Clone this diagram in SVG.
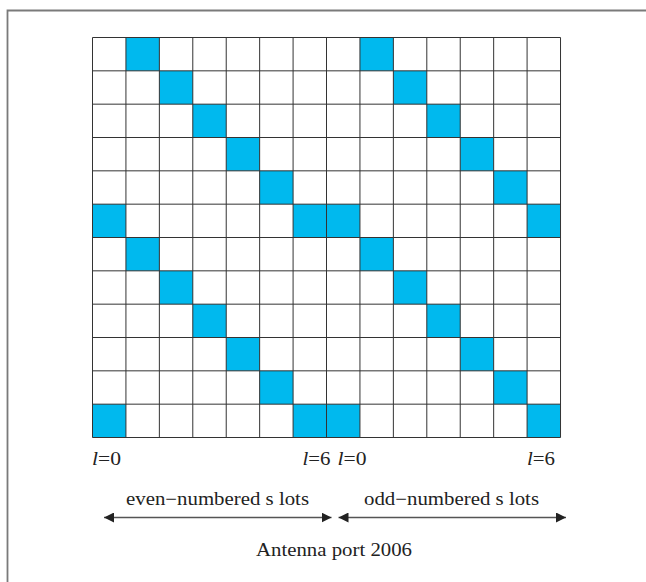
<svg xmlns="http://www.w3.org/2000/svg" width="646" height="582" viewBox="0 0 646 582">
<defs>
<style>
.cell{fill:#00B9EE}
.grid{stroke:#333;stroke-width:1;fill:none}
.frame{stroke:#7a7a7a;stroke-width:1.8;fill:none}
.t{font-family:"Liberation Serif","Times New Roman",serif;fill:#222}
.lbl{font-size:18px}
.cap{font-size:18px}
.arr{stroke:#555;stroke-width:1.6;fill:none}
</style>
<marker id="ah" viewBox="0 0 10 10" refX="10" refY="5" markerWidth="10" markerHeight="10" markerUnits="userSpaceOnUse" orient="auto-start-reverse">
<path d="M0,0 L10,5 L0,10 Z" fill="#222"/>
</marker>
</defs>
<rect width="646" height="582" fill="#fff"/>
<path class="frame" d="M7.5,582 V10.5 H646"/>
<g id="cells">
<g id="even">
<rect class="cell" x="125.93" y="37.5" width="33.43" height="33.33"/>
<rect class="cell" x="159.36" y="70.83" width="33.43" height="33.33"/>
<rect class="cell" x="192.79" y="104.17" width="33.43" height="33.33"/>
<rect class="cell" x="226.22" y="137.5" width="33.43" height="33.33"/>
<rect class="cell" x="259.65" y="170.83" width="33.43" height="33.33"/>
<rect class="cell" x="92.5" y="204.17" width="33.43" height="33.33"/>
<rect class="cell" x="293.08" y="204.17" width="33.43" height="33.33"/>
<rect class="cell" x="125.93" y="237.5" width="33.43" height="33.33"/>
<rect class="cell" x="159.36" y="270.83" width="33.43" height="33.33"/>
<rect class="cell" x="192.79" y="304.17" width="33.43" height="33.33"/>
<rect class="cell" x="226.22" y="337.5" width="33.43" height="33.33"/>
<rect class="cell" x="259.65" y="370.83" width="33.43" height="33.33"/>
<rect class="cell" x="92.5" y="404.17" width="33.43" height="33.33"/>
<rect class="cell" x="293.08" y="404.17" width="33.43" height="33.33"/>
</g>
<g id="odd">
<rect class="cell" x="359.94" y="37.5" width="33.43" height="33.33"/>
<rect class="cell" x="393.37" y="70.83" width="33.43" height="33.33"/>
<rect class="cell" x="426.8" y="104.17" width="33.43" height="33.33"/>
<rect class="cell" x="460.23" y="137.5" width="33.43" height="33.33"/>
<rect class="cell" x="493.66" y="170.83" width="33.43" height="33.33"/>
<rect class="cell" x="326.51" y="204.17" width="33.43" height="33.33"/>
<rect class="cell" x="527.09" y="204.17" width="33.43" height="33.33"/>
<rect class="cell" x="359.94" y="237.5" width="33.43" height="33.33"/>
<rect class="cell" x="393.37" y="270.83" width="33.43" height="33.33"/>
<rect class="cell" x="426.8" y="304.17" width="33.43" height="33.33"/>
<rect class="cell" x="460.23" y="337.5" width="33.43" height="33.33"/>
<rect class="cell" x="493.66" y="370.83" width="33.43" height="33.33"/>
<rect class="cell" x="326.51" y="404.17" width="33.43" height="33.33"/>
<rect class="cell" x="527.09" y="404.17" width="33.43" height="33.33"/>
</g>
</g>
<g id="grid">
<path class="grid" d="M92.5,37.5 V437.5 M125.93,37.5 V437.5 M159.36,37.5 V437.5 M192.79,37.5 V437.5 M226.22,37.5 V437.5 M259.65,37.5 V437.5 M293.08,37.5 V437.5 M326.51,37.5 V437.5 M359.94,37.5 V437.5 M393.37,37.5 V437.5 M426.8,37.5 V437.5 M460.23,37.5 V437.5 M493.66,37.5 V437.5 M527.09,37.5 V437.5 M560.52,37.5 V437.5"/>
<path class="grid" d="M92.5,37.5 H560.52 M92.5,70.83 H560.52 M92.5,104.17 H560.52 M92.5,137.5 H560.52 M92.5,170.83 H560.52 M92.5,204.17 H560.52 M92.5,237.5 H560.52 M92.5,270.83 H560.52 M92.5,304.17 H560.52 M92.5,337.5 H560.52 M92.5,370.83 H560.52 M92.5,404.17 H560.52 M92.5,437.5 H560.52"/>
</g>
<g id="labels">
<text class="t lbl" x="92" y="465" textLength="29" lengthAdjust="spacingAndGlyphs"><tspan font-style="italic">l</tspan>=0</text>
<text class="t lbl" x="302.5" y="465" textLength="28" lengthAdjust="spacingAndGlyphs"><tspan font-style="italic">l</tspan>=6</text>
<text class="t lbl" x="337.5" y="465" textLength="29" lengthAdjust="spacingAndGlyphs"><tspan font-style="italic">l</tspan>=0</text>
<text class="t lbl" x="527" y="465" textLength="28" lengthAdjust="spacingAndGlyphs"><tspan font-style="italic">l</tspan>=6</text>
</g>
<g id="connectors">
<line class="arr" x1="104" y1="517.5" x2="331.5" y2="517.5" marker-start="url(#ah)" marker-end="url(#ah)"/>
<line class="arr" x1="338.5" y1="517.5" x2="566" y2="517.5" marker-start="url(#ah)" marker-end="url(#ah)"/>
</g>
<g id="captions">
<text class="t cap" x="126" y="505" textLength="183" lengthAdjust="spacingAndGlyphs">even−numbered s lots</text>
<text class="t cap" x="364" y="505" textLength="175" lengthAdjust="spacingAndGlyphs">odd−numbered s lots</text>
<text class="t cap" x="256" y="556" textLength="156" lengthAdjust="spacingAndGlyphs">Antenna port 2006</text>
</g>
</svg>
